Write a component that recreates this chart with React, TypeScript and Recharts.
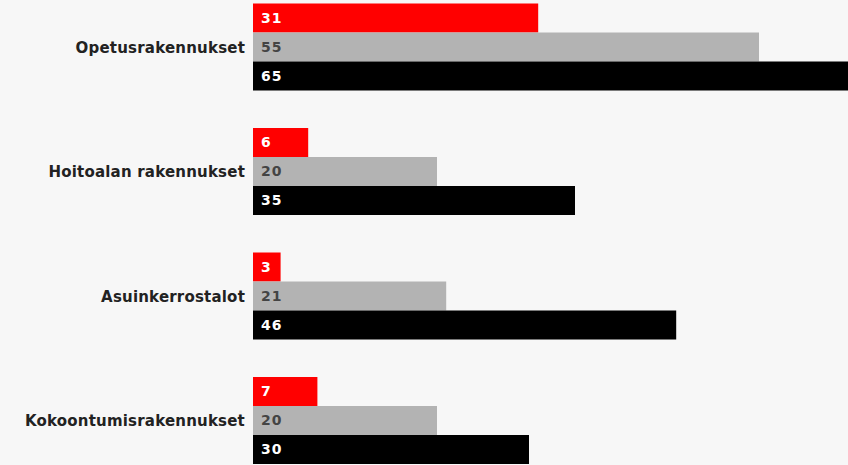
import React from "react";
import { BarChart, Bar, XAxis, YAxis, LabelList } from "recharts";

const categories = ["Opetusrakennukset", "Hoitoalan rakennukset", "Asuinkerrostalot", "Kokoontumisrakennukset"];
const redValues = [31, 6, 3, 7];
const grayValues = [55, 20, 21, 20];
const blackValues = [65, 35, 46, 30];

const data = categories.map((name, i) => ({
  name,
  red: redValues[i],
  gray: grayValues[i],
  black: blackValues[i],
}));

const FONT = "'DejaVu Sans', sans-serif";

export default function App() {
  return (
    <div style={{ position: "fixed", top: 0, left: 0, width: 848, height: 465, overflow: "hidden", background: "#f7f7f7" }}>
      <div style={{ position: "absolute", top: -15, left: 0 }}>
        <BarChart
          width={851}
          height={498}
          data={data}
          layout="vertical"
          margin={{ top: 0, right: 0, bottom: 0, left: 0 }}
          barCategoryGap={18.5}
          barGap={0}
        >
          <XAxis type="number" domain={[0, 65]} hide />
          <YAxis
            type="category"
            dataKey="name"
            width={253}
            axisLine={false}
            tickLine={false}
            tick={{ fill: "#222", fontSize: 15, fontWeight: 700, fontFamily: FONT, letterSpacing: 0.2 }}
          />
          <Bar dataKey="red" fill="#ff0000" isAnimationActive={false}>
            <LabelList dataKey="red" position="insideLeft" offset={8} fill="#ffffff" fontSize={14} fontWeight={700} fontFamily={FONT} letterSpacing={1} />
          </Bar>
          <Bar dataKey="gray" fill="#b3b3b3" isAnimationActive={false}>
            <LabelList dataKey="gray" position="insideLeft" offset={8} fill="#444444" fontSize={14} fontWeight={700} fontFamily={FONT} letterSpacing={1} />
          </Bar>
          <Bar dataKey="black" fill="#000000" isAnimationActive={false}>
            <LabelList dataKey="black" position="insideLeft" offset={8} fill="#ffffff" fontSize={14} fontWeight={700} fontFamily={FONT} letterSpacing={1} />
          </Bar>
        </BarChart>
      </div>
    </div>
  );
}
